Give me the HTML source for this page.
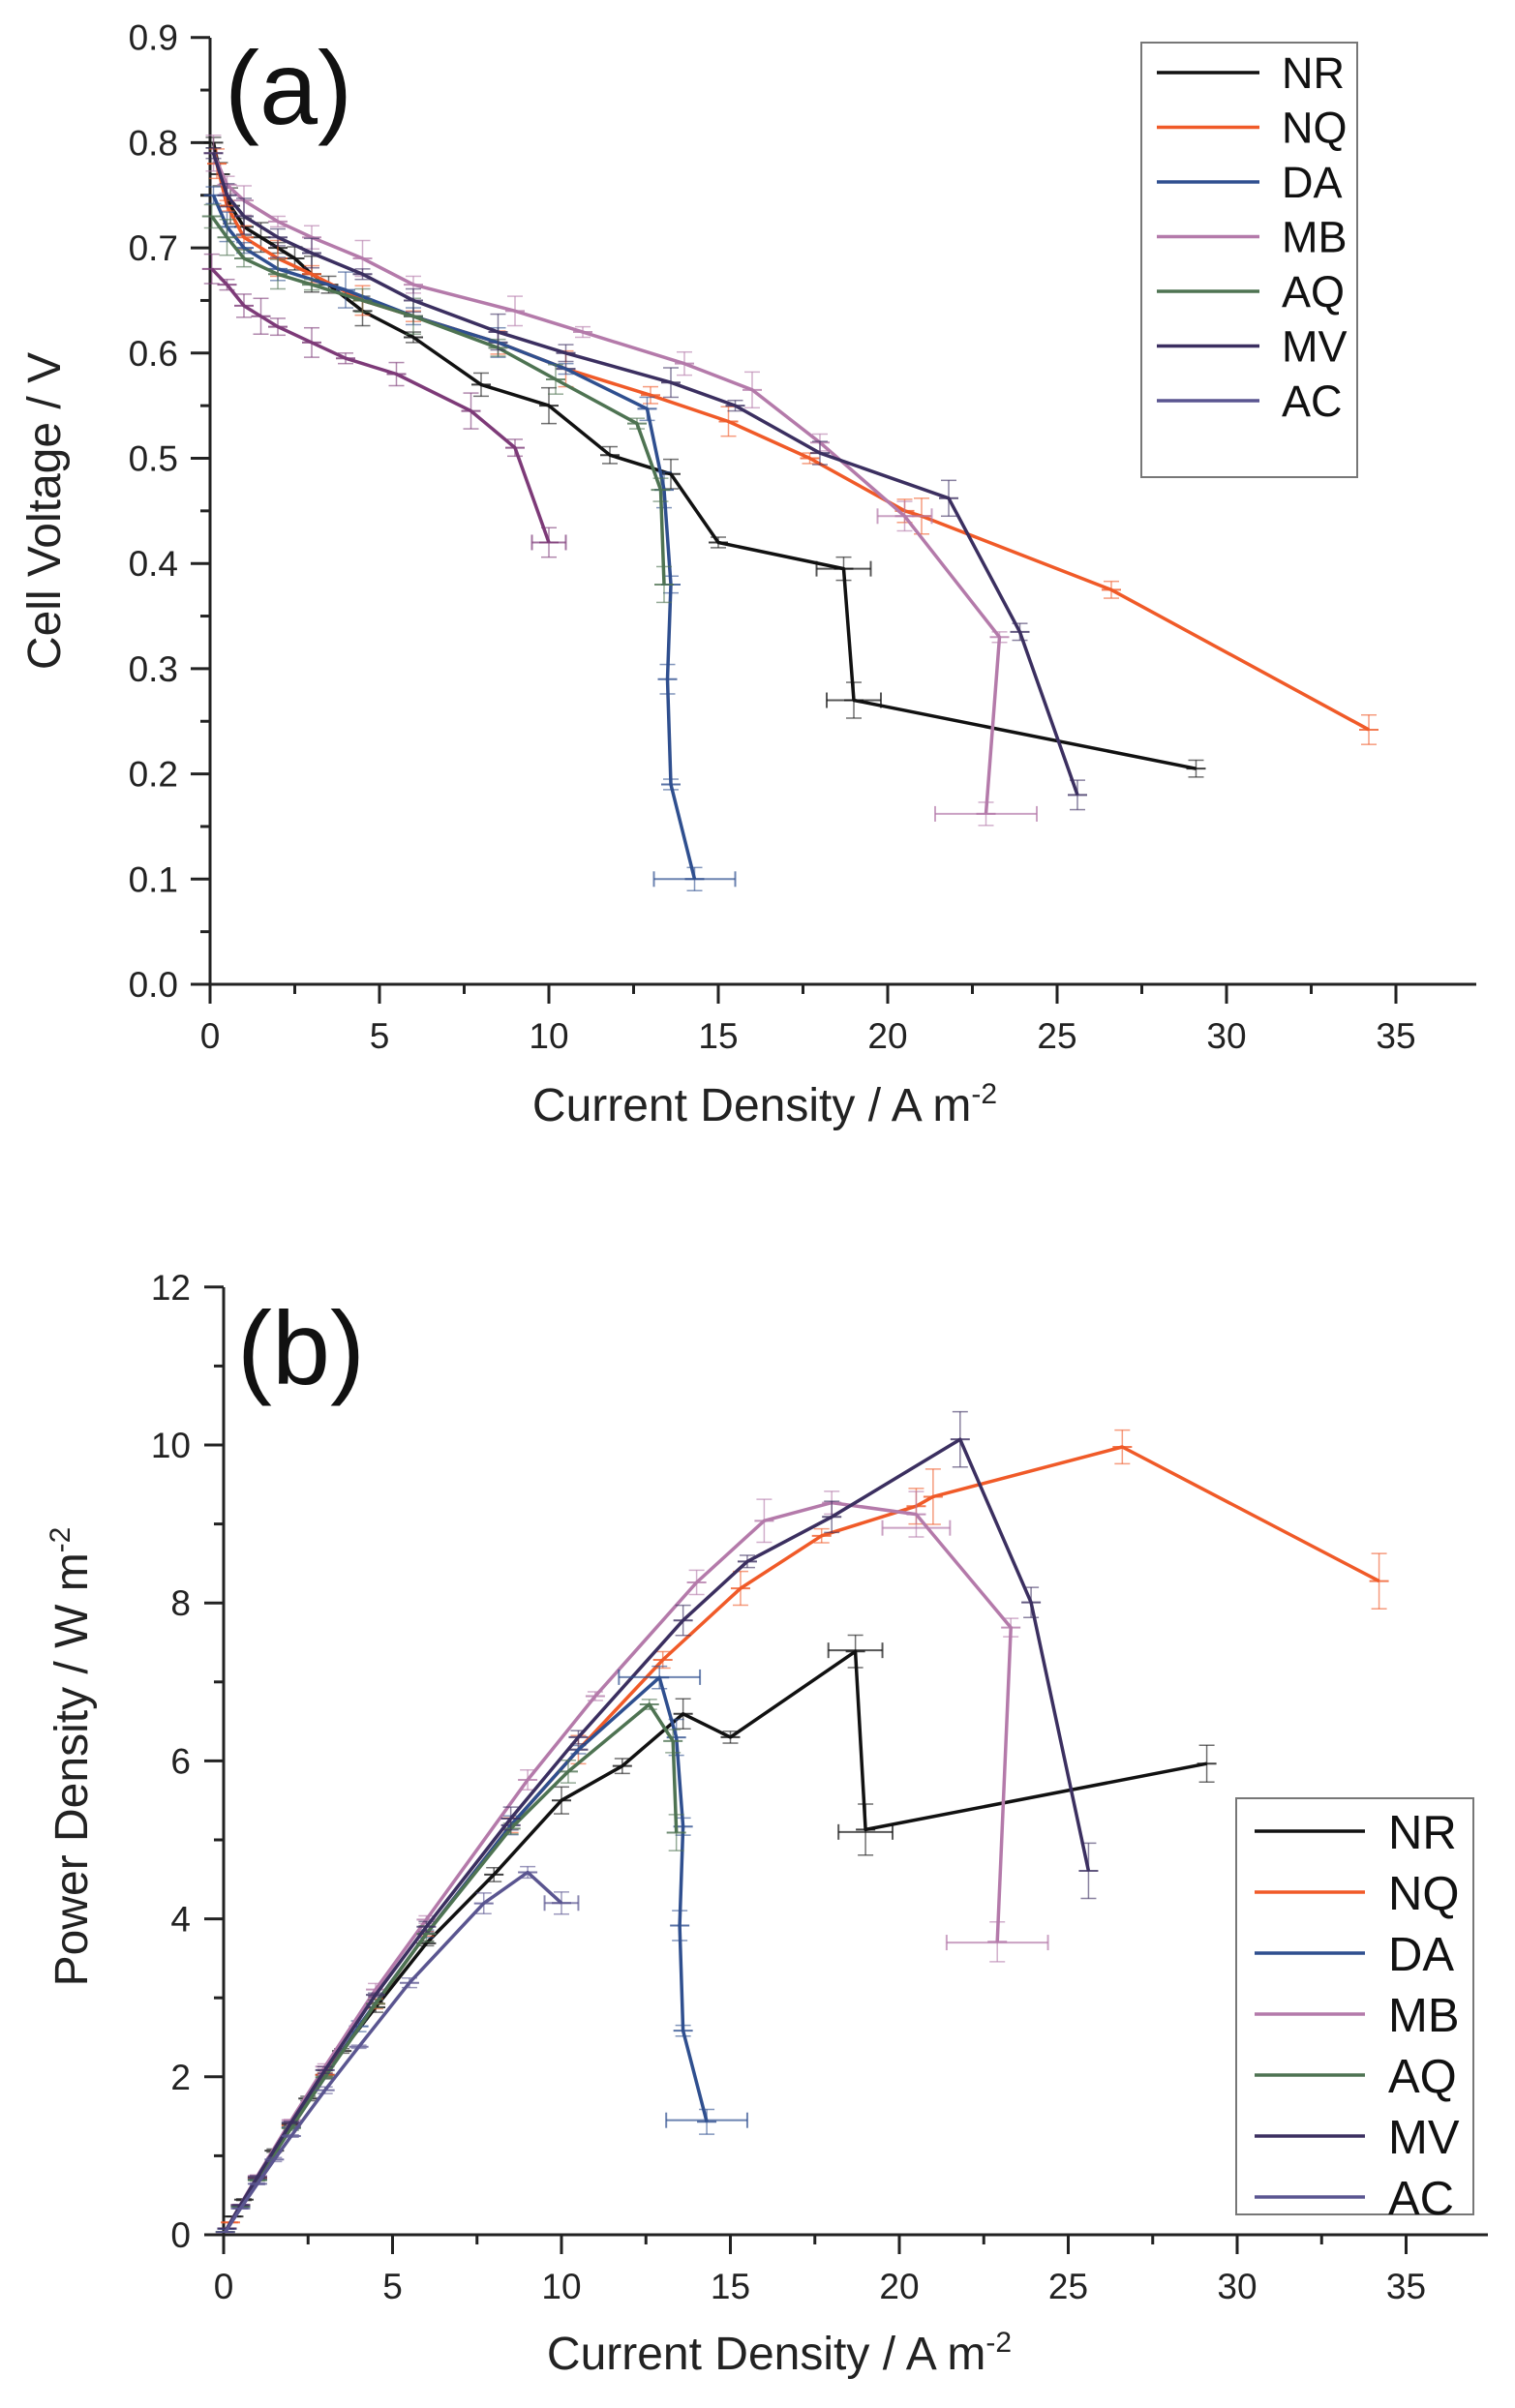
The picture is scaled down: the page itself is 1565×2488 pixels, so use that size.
<!DOCTYPE html>
<html><head><meta charset="utf-8"><style>
html,body{margin:0;padding:0;background:#fff;}
svg{display:block;font-family:"Liberation Sans",Arial,sans-serif;}
</style></head><body>
<svg id="s" width="1565" height="2488" xmlns="http://www.w3.org/2000/svg">
<rect width="1565" height="2488" fill="#fff"/>
<g stroke="#222" stroke-width="3" fill="none">
<line x1="217" y1="39" x2="217" y2="1017"/>
<line x1="217" y1="1017" x2="1525" y2="1017"/>
</g>
<text x="232" y="128" font-size="108" fill="#111">(a)</text>
<text transform="translate(62,528) rotate(-90)" font-size="48" fill="#222" text-anchor="middle">Cell Voltage / V</text>
<text x="790" y="1158" font-size="48" fill="#222" text-anchor="middle">Current Density / A m<tspan dy="-18" font-size="30">-2</tspan></text>
<rect x="1179" y="44" width="223" height="449" fill="#fff" stroke="#777" stroke-width="2"/>
<g stroke="#222" stroke-width="3" fill="none">
<line x1="231" y1="1330" x2="231" y2="2309"/>
<line x1="231" y1="2309" x2="1537" y2="2309"/>
</g>
<text x="245" y="1430" font-size="108" fill="#111">(b)</text>
<text transform="translate(90,1815) rotate(-90)" font-size="48" fill="#222" text-anchor="middle">Power Density / W m<tspan dy="-18" font-size="30">-2</tspan></text>
<text x="805" y="2448" font-size="48" fill="#222" text-anchor="middle">Current Density / A m<tspan dy="-18" font-size="30">-2</tspan></text>
<rect x="1277" y="1858" width="245" height="430" fill="#fff" stroke="#777" stroke-width="2"/>
<g id="dyn"></g>
</svg>
<script>
var NS="http://www.w3.org/2000/svg",g=document.getElementById("dyn");
function el(t,a,txt){var e=document.createElementNS(NS,t);for(var k in a)e.setAttribute(k,a[k]);if(txt!=null)e.textContent=txt;g.appendChild(e);return e;}
var ax=function(x){return 217+35*x},ay=function(v){return 1017-1087*v};
var bx=function(x){return 231+34.9*x},by=function(p){return 2309-81.6*p};
for(var i=0;i<=9;i++){var y=ay(i/10);el("line",{x1:197,y1:y,x2:217,y2:y,stroke:"#222","stroke-width":3});
 el("text",{x:184,y:y+13,"font-size":37,"text-anchor":"end",fill:"#222"},(i/10).toFixed(1));
 if(i<9){var y2=ay(i/10+0.05);el("line",{x1:207,y1:y2,x2:217,y2:y2,stroke:"#222","stroke-width":3});}}
for(var i=0;i<=7;i++){var x=ax(i*5);el("line",{x1:x,y1:1017,x2:x,y2:1037,stroke:"#222","stroke-width":3});
 el("text",{x:x,y:1083,"font-size":37,"text-anchor":"middle",fill:"#222"},String(i*5));
 if(i<7){var x2=ax(i*5+2.5);el("line",{x1:x2,y1:1017,x2:x2,y2:1027,stroke:"#222","stroke-width":3});}}
for(var i=0;i<=6;i++){var y=by(i*2);el("line",{x1:211,y1:y,x2:231,y2:y,stroke:"#222","stroke-width":3});
 el("text",{x:197,y:y+13,"font-size":37,"text-anchor":"end",fill:"#222"},String(i*2));
 if(i<6){var y2=by(i*2+1);el("line",{x1:221,y1:y2,x2:231,y2:y2,stroke:"#222","stroke-width":3});}}
for(var i=0;i<=7;i++){var x=bx(i*5);el("line",{x1:x,y1:2309,x2:x,y2:2329,stroke:"#222","stroke-width":3});
 el("text",{x:x,y:2375,"font-size":37,"text-anchor":"middle",fill:"#222"},String(i*5));
 if(i<7){var x2=bx(i*5+2.5);el("line",{x1:x2,y1:2309,x2:x2,y2:2319,stroke:"#222","stroke-width":3});}}
var S=[
{n:"NR",c:"#111",ca:"#111",cb:"#111",d:[[0.1,0.80],[0.3,0.77],[0.6,0.74],[1,0.72],[1.5,0.71],[2,0.70],[2.5,0.69],[3,0.675],[3.5,0.665],[4.5,0.64],[6,0.615],[8,0.57],[10,0.55],[11.8,0.503],[13.6,0.485],[15,0.42],[18.7,0.395],[19,0.27],[29.1,0.205]]},
{n:"NQ",c:"#f05a28",ca:"#f05a28",cb:"#f05a28",d:[[0.2,0.78],[0.5,0.74],[1,0.71],[2,0.69],[3,0.675],[4.5,0.65],[6,0.635],[8.5,0.61],[10.5,0.585],[13,0.56],[15.3,0.535],[17.7,0.5],[20.5,0.45],[21,0.445],[26.6,0.375],[34.2,0.242]]},
{n:"DA",c:"#2f4f8f",ca:"#2f4f8f",cb:"#2f4f8f",d:[[0.1,0.75],[0.5,0.72],[1,0.70],[2,0.68],[4,0.66],[6,0.635],[8.5,0.61],[10.5,0.585],[12.9,0.547],[13.4,0.47],[13.6,0.38],[13.5,0.29],[13.6,0.19],[14.3,0.10]]},
{n:"MB",c:"#b47aaa",ca:"#b47aaa",cb:"#b47aaa",d:[[0.1,0.79],[0.5,0.76],[1,0.745],[2,0.725],[3,0.71],[4.5,0.69],[6,0.665],[9,0.64],[11,0.62],[14,0.59],[16,0.565],[18,0.515],[20.5,0.445],[23.3,0.33],[22.9,0.162]]},
{n:"AQ",c:"#4e7352",ca:"#4e7352",cb:"#4e7352",d:[[0.05,0.73],[0.5,0.71],[1,0.69],[2,0.675],[3,0.665],[4.5,0.65],[6,0.635],[8.5,0.605],[10.2,0.575],[12.6,0.533],[13.3,0.47],[13.4,0.38]]},
{n:"MV",c:"#3b2f60",ca:"#3b2f60",cb:"#3b2f60",d:[[0.1,0.79],[0.5,0.75],[1,0.73],[2,0.71],[3,0.695],[4.5,0.675],[6,0.65],[8.5,0.62],[10.5,0.6],[13.6,0.572],[15.5,0.55],[18,0.505],[21.8,0.462],[23.9,0.335],[25.6,0.18]]},
{n:"AC",c:"#5a5590",ca:"#7d3a78",cb:"#5a5590",d:[[0.05,0.68],[0.5,0.665],[1,0.645],[1.5,0.635],[2,0.625],[3,0.61],[4,0.595],[5.5,0.58],[7.7,0.545],[9,0.51],[10,0.42]]}
];
function pts(d,fx,fy,pw){return d.map(function(p){var y=pw?p[0]*p[1]:p[1];return fx(p[0]).toFixed(1)+","+fy(y).toFixed(1)}).join(" ");}
S.forEach(function(s,k){
 s.d.forEach(function(p,j){
  var e=0.005+((j*7+k*3)%5)*0.003;
  [[ax,ay,false,s.ca],[bx,by,true,s.cb]].forEach(function(m){
   var X=m[0](p[0]),v=m[2]?p[0]*p[1]:p[1],ev=m[2]?Math.min(e*p[0],0.35):e;
   var Y1=m[1](v+ev),Y2=m[1](v-ev);
   el("line",{x1:X,y1:Y1,x2:X,y2:Y2,stroke:m[3],"stroke-width":1.5,opacity:0.6});
   el("line",{x1:X-8,y1:Y1,x2:X+8,y2:Y1,stroke:m[3],"stroke-width":1.5,opacity:0.6});
   el("line",{x1:X-8,y1:Y2,x2:X+8,y2:Y2,stroke:m[3],"stroke-width":1.5,opacity:0.6});
   var Yc=m[1](v);el("line",{x1:X-10,y1:Yc,x2:X+10,y2:Yc,stroke:m[3],"stroke-width":2,opacity:0.8});
  });
 });
 el("polyline",{points:pts(s.d,ax,ay,false),fill:"none",stroke:s.ca,"stroke-width":3.5,"stroke-linejoin":"round"});
 el("polyline",{points:pts(s.d,bx,by,true),fill:"none",stroke:s.cb,"stroke-width":3.5,"stroke-linejoin":"round"});
 var ly=75+k*56.5;
 el("line",{x1:1195,y1:ly,x2:1301,y2:ly,stroke:s.c,"stroke-width":3.5});
 el("text",{x:1324,y:ly+16,"font-size":45,fill:"#111"},s.n);
 var ly2=1892+k*63;
 el("line",{x1:1296,y1:ly2,x2:1410,y2:ly2,stroke:s.c,"stroke-width":3.5});
 el("text",{x:1434,y:ly2+18,"font-size":49,fill:"#111"},s.n);
});
[[ax,ay,14.3,0.10,1.2,"#2f4f8f"],[ax,ay,22.9,0.162,1.5,"#b47aaa"],[ax,ay,18.7,0.395,0.8,"#111"],[ax,ay,19,0.27,0.8,"#111"],[ax,ay,20.5,0.445,0.8,"#b47aaa"],[ax,ay,10,0.42,0.5,"#7d3a78"],
 [bx,by,14.3,1.45,1.2,"#2f4f8f"],[bx,by,22.9,3.7,1.5,"#b47aaa"],[bx,by,18.7,7.4,0.8,"#111"],[bx,by,19,5.1,0.8,"#111"],[bx,by,10,4.2,0.5,"#5a5590"],[bx,by,12.9,7.06,1.2,"#2f4f8f"],[bx,by,20.5,8.95,1.0,"#b47aaa"]].forEach(function(b){
 var Y=b[1](b[3]);el("line",{x1:b[0](b[2]-b[4]),y1:Y,x2:b[0](b[2]+b[4]),y2:Y,stroke:b[5],"stroke-width":2,opacity:0.7});
 el("line",{x1:b[0](b[2]-b[4]),y1:Y-8,x2:b[0](b[2]-b[4]),y2:Y+8,stroke:b[5],"stroke-width":2,opacity:0.7});
 el("line",{x1:b[0](b[2]+b[4]),y1:Y-8,x2:b[0](b[2]+b[4]),y2:Y+8,stroke:b[5],"stroke-width":2,opacity:0.7});
});
</script>
</body></html>
